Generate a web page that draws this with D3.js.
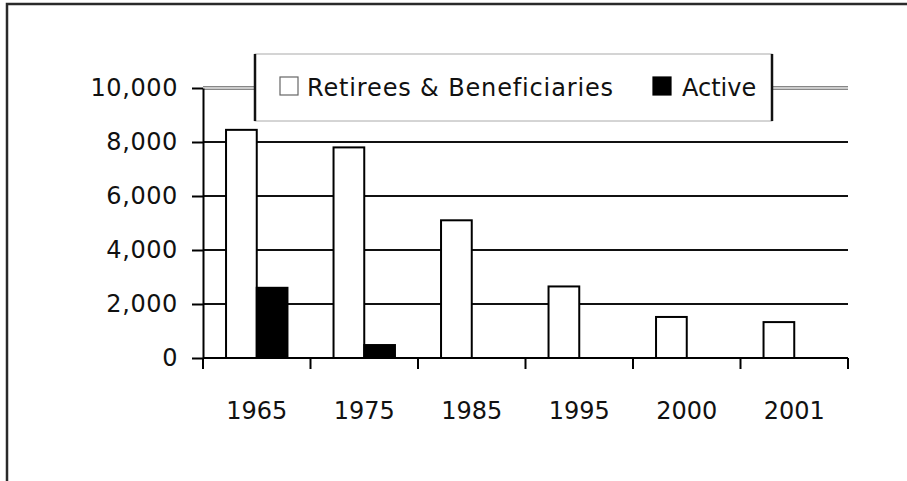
<!DOCTYPE html>
<html>
<head>
<meta charset="utf-8">
<script src="https://cdn.jsdelivr.net/npm/d3@7"></script>
<style>
  html, body { margin: 0; padding: 0; background: #fff; }
  svg { display: block; }
  text { font-family: 'DejaVu Sans', sans-serif; font-size: 24px; fill: #111; }
</style>
</head>
<body>
<div id="chart"></div>
<script>
// data
const years = ['1965', '1975', '1985', '1995', '2000', '2001']
const series = ['Retirees & Beneficiaries', 'Active']
const retirees = [8450, 7800, 5100, 2650, 1520, 1330]
const active = [2600, 480, 0, 0, 0, 0]
const yTicks = [0, 2000, 4000, 6000, 8000, 10000]

const W = 907, H = 481
const FONT = "'DejaVu Sans', sans-serif"
const svg = d3.select('#chart').append('svg')
  .attr('width', W).attr('height', H)

// outer frame (right/bottom run off the picture)
svg.append('rect')
  .attr('x', 7).attr('y', 4)
  .attr('width', W + 20).attr('height', H + 20)
  .attr('fill', 'none')
  .attr('stroke', '#2a2a2a')
  .attr('stroke-width', 2.5)

const x = d3.scaleBand().domain(years).range([203, 848])
const x1 = d3.scaleBand().domain(series)
  .range([0, x.bandwidth()])
  .paddingInner(0).paddingOuter(0.75)
const y = d3.scaleLinear().domain([0, 10000]).range([358, 88])

const color = { 'Retirees & Beneficiaries': '#fff', 'Active': '#000' }

// gridlines
const grid = svg.append('g')
grid.selectAll('line.g')
  .data(yTicks.filter(d => d > 0 && d < 10000))
  .join('line')
  .attr('x1', x.range()[0]).attr('x2', x.range()[1])
  .attr('y1', d => y(d)).attr('y2', d => y(d))
  .attr('stroke', '#111').attr('stroke-width', 2)

// top gridline drawn as a thin double line
;[-1.2, 1.2].forEach(off => {
  grid.append('line')
    .attr('x1', x.range()[0]).attr('x2', x.range()[1])
    .attr('y1', y(10000) + off).attr('y2', y(10000) + off)
    .attr('stroke', '#555').attr('stroke-width', 1)
})

// bars
const rows = years.map((yr, i) => ({ year: yr, values: [retirees[i], active[i]] }))
const groups = svg.append('g').selectAll('g')
  .data(rows)
  .join('g')
  .attr('transform', d => `translate(${x(d.year)},0)`)

groups.selectAll('rect')
  .data(d => series.map((s, j) => ({ key: s, value: d.values[j] })).filter(d => d.value > 0))
  .join('rect')
  .attr('x', d => x1(d.key))
  .attr('width', x1.bandwidth())
  .attr('y', d => y(d.value))
  .attr('height', d => y(0) - y(d.value))
  .attr('fill', d => color[d.key])
  .attr('stroke', '#000')
  .attr('stroke-width', 2)

// y axis
const yAxis = svg.append('g')
  .attr('transform', `translate(${x.range()[0]},0)`)
  .call(d3.axisLeft(y).tickValues(yTicks).tickFormat(d3.format(','))
    .tickSize(11).tickSizeOuter(0).tickPadding(14))
yAxis.select('.domain').attr('stroke', '#000').attr('stroke-width', 2)
yAxis.selectAll('.tick line').attr('stroke', '#000').attr('stroke-width', 2)
yAxis.selectAll('.tick text')
  .style('font-family', FONT).style('font-size', '24px')
  .style('letter-spacing', '0.6px')
  .attr('fill', '#111')

// x axis: baseline, boundary ticks, centred labels
const xAxis = svg.append('g')
xAxis.append('line')
  .attr('x1', x.range()[0]).attr('x2', x.range()[1])
  .attr('y1', y(0)).attr('y2', y(0))
  .attr('stroke', '#000').attr('stroke-width', 2)
xAxis.selectAll('line.tk')
  .data(years.map(d => x(d)).concat([x.range()[1]]))
  .join('line')
  .attr('class', 'tk')
  .attr('x1', d => d).attr('x2', d => d)
  .attr('y1', y(0)).attr('y2', y(0) + 11)
  .attr('stroke', '#000').attr('stroke-width', 2)
xAxis.selectAll('text')
  .data(years)
  .join('text')
  .attr('x', d => x(d) + x.bandwidth() / 2)
  .attr('y', 419)
  .attr('text-anchor', 'middle')
  .text(d => d)

// legend
const lg = svg.append('g')
const L = { x0: 255, x1: 772, y0: 54, y1: 121 }
lg.append('rect')
  .attr('x', L.x0).attr('y', L.y0)
  .attr('width', L.x1 - L.x0).attr('height', L.y1 - L.y0)
  .attr('fill', '#fff').attr('stroke', '#aaa').attr('stroke-width', 1)
;[L.x0, L.x1].forEach(px => {
  lg.append('line')
    .attr('x1', px).attr('x2', px).attr('y1', L.y0).attr('y2', L.y1)
    .attr('stroke', '#111').attr('stroke-width', 2.5)
})
const items = [
  { key: series[0], sx: 280, tx: 307, ls: 0.85 },
  { key: series[1], sx: 653, tx: 682, ls: 0 }
]
items.forEach(it => {
  lg.append('rect')
    .attr('x', it.sx).attr('y', 77)
    .attr('width', 18).attr('height', 18)
    .attr('fill', color[it.key])
    .attr('stroke', it.key === 'Active' ? '#000' : '#666')
    .attr('stroke-width', 1.2)
  lg.append('text')
    .attr('x', it.tx).attr('y', 96)
    .style('letter-spacing', it.ls + 'px')
    .text(it.key)
})
</script>
</body>
</html>
